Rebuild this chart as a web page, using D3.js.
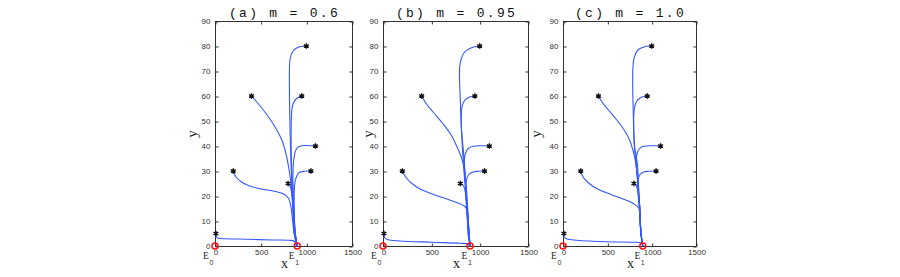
<!DOCTYPE html>
<html><head><meta charset="utf-8">
<script src="https://cdn.jsdelivr.net/npm/d3@7"></script>
<style>body{margin:0;background:#fff}</style>
</head><body><svg id="c" width="900" height="277"></svg>
<script>
// ---- data ----
const titles = ["(a) m = 0.6", "(b) m = 0.95", "(c) m = 1.0"];
const xTicks = [0, 500, 1000, 1500];
const yTicks = [0, 10, 20, 30, 40, 50, 60, 70, 80, 90];
const equilibria = [[0, 0], [900, 0]];
const eqSubs = ["0", "1"];
const startPoints = [[10,5],[200,30],[400,60],[800,25],[1000,80],[950,60],[1100,40],[1050,30]];

const trajA = [
  [[10,5],[15,3.6],[37,3.1],[117,2.9],[337,2.7],[629,2.4],[812,2.3],[867,1.9],[885,0.5],[900,0]],
  [[200,30],[227,27.8],[282,25.8],[373,24.1],[520,22.7],[666,21.8],[757,20.7],[805,19.1],[831,15.8],[849,10.5],[871,3.9],[900,0]],
  [[400,60],[465,57.3],[556,53.1],[666,47.1],[732,42.4],[776,37.1],[805,31.8],[827,26.5],[841,21.1],[860,13.2],[878,5.2],[900,0]],
  [[800,25],[823,23.8],[841,21.1],[853,15.8],[867,7.8],[900,0]],
  [[1000,80],[904,79.4],[849,77.7],[823,75],[816,71.7],[816,58.4],[823,45],[834,31.8],[849,18.5],[867,5.2],[900,0]],
  [[950,60],[893,59],[856,57],[841,54.4],[834,47.7],[834,38.4],[841,29.1],[856,18.5],[874,5.2],[900,0]],
  [[1100,40],[995,40.2],[922,39.8],[885,38.4],[867,35.8],[856,31.8],[853,26.5],[860,18.5],[878,5.2],[900,0]],
  [[1050,30],[977,29.9],[922,29.4],[893,27.8],[874,25.1],[867,21.1],[867,14.5],[878,5.2],[900,0]]
];
const trajB = [
  [[10,5],[17,3.3],[52,2.5],[172,2.0],[517,1.5],[793,1.1],[879,0.8],[900,0]],
  [[200,30],[234,27.6],[293,25.2],[379,22.9],[517,20.7],[655,18.9],[776,17.2],[845,15.9],[869,14.3],[879,10.3],[890,4.9],[900,0]],
  [[400,60],[448,56.9],[534,52.9],[621,48.9],[707,44.3],[766,39.6],[810,35.6],[828,32.9],[845,28.9],[862,20.9],[879,11.6],[900,0]],
  [[800,25],[828,24.3],[845,22.9],[855,20.9],[862,18.3],[872,11.6],[900,0]],
  [[1000,80],[914,79.3],[845,77.6],[810,74.9],[793,71.6],[793,64.9],[800,58.3],[810,47.6],[828,39.6],[845,31.6],[855,23.6],[869,15.6],[879,4.9],[900,0]],
  [[950,60],[879,59.3],[834,57.6],[814,54.9],[810,50.3],[817,42.3],[828,35.6],[845,30.3],[862,23.6],[879,12.9],[890,4.9],[900,0]],
  [[1100,40],[1017,40.1],[931,39.9],[879,38.9],[852,36.9],[841,34.3],[838,30.3],[845,26.3],[862,19.6],[879,11.6],[900,0]],
  [[1050,30],[983,29.9],[931,29.6],[890,28.7],[862,26.3],[852,22.9],[859,18.3],[872,11.6],[900,0]]
];
const trajC = [
  [[10,5],[12,3.6],[45,2.8],[158,2.3],[496,1.7],[797,1.5],[872,1.3],[900,0]],
  [[200,30],[226,27.6],[289,25.2],[383,22.9],[534,20.7],[684,18.7],[797,16.9],[853,15.3],[865,12.9],[872,7.6],[883,3.6],[900,0]],
  [[400,60],[440,57.6],[515,54.3],[609,50.3],[692,46.3],[752,42.3],[789,38.3],[808,35.6],[827,31.6],[842,26.3],[857,18.3],[880,4.9],[900,0]],
  [[800,25],[823,24.3],[838,22.9],[846,20.9],[853,18.3],[865,14.3],[880,4.9],[900,0]],
  [[1000,80],[910,79.6],[842,78.3],[805,75.6],[789,71.6],[786,64.9],[789,58.3],[797,47.6],[808,39.6],[827,35.6],[842,31.6],[853,23.6],[865,15.6],[880,4.9],[900,0]],
  [[950,60],[872,59.3],[827,57.6],[805,54.9],[797,50.3],[801,42.3],[816,35.6],[835,28.9],[853,20.9],[865,15.6],[880,4.9],[900,0]],
  [[1100,40],[1004,40.1],[910,39.9],[861,38.9],[835,36.9],[827,34.3],[831,30.3],[842,26.3],[853,20.9],[865,15.6],[880,4.9],[900,0]],
  [[1050,30],[966,29.9],[910,29.6],[872,28.7],[850,26.9],[846,23.6],[853,19.6],[865,15.6],[880,4.9],[900,0]]
];
const trajectories = [trajA, trajB, trajC];

// ---- layout ----
const frames = [
  {l: 215, r: 352, yl: 194},
  {l: 383, r: 528, yl: 370},
  {l: 563, r: 696, yl: 538}
];
const topY = 21, bottomY = 246;
const svg = d3.select("#c");
const axisColor = "#333";
const tickFont = "Liberation Sans, Arial, sans-serif";

frames.forEach((f, i) => {
  const x = d3.scaleLinear().domain([0, 1500]).range([f.l, f.r]);
  const y = d3.scaleLinear().domain([0, 90]).range([bottomY, topY]);
  const g = svg.append("g");

  // box
  g.append("rect").attr("x", f.l + 0.5).attr("y", topY + 0.5)
    .attr("width", f.r - f.l).attr("height", bottomY - topY)
    .attr("fill", "none").attr("stroke", axisColor).attr("stroke-width", 1);

  // inward ticks via d3 axes
  const tl = 3;
  const axB = g.append("g").attr("transform", `translate(0.5,${bottomY + 0.5})`)
    .call(d3.axisBottom(x).tickValues(xTicks).tickSize(-tl).tickFormat(d => d).tickPadding(4));
  const axT = g.append("g").attr("transform", `translate(0.5,${topY + 0.5})`)
    .call(d3.axisTop(x).tickValues(xTicks).tickSize(-tl).tickFormat(""));
  const axL = g.append("g").attr("transform", `translate(${f.l + 0.5},0.5)`)
    .call(d3.axisLeft(y).tickValues(yTicks).tickSize(-tl).tickFormat(d => d).tickPadding(5));
  const axR = g.append("g").attr("transform", `translate(${f.r + 0.5},0.5)`)
    .call(d3.axisRight(y).tickValues(yTicks).tickSize(-tl).tickFormat(""));
  [axB, axT, axL, axR].forEach(a => {
    a.select(".domain").remove();
    a.selectAll("line").attr("stroke", axisColor);
    a.selectAll("text").attr("fill", "#333").style("font-family", tickFont).style("font-size", "8px");
  });
  axB.selectAll("text").attr("dy", "0.5em");
  axL.selectAll("text").attr("dy", "0.25em");

  // trajectories
  const line = d3.line().x(d => x(d[0])).y(d => y(d[1])).curve(d3.curveCatmullRom.alpha(0.5));
  g.selectAll("path.traj").data(trajectories[i]).enter().append("path")
    .attr("class", "traj").attr("d", line)
    .attr("fill", "none").attr("stroke", "#3358ff").attr("stroke-width", 1.1);

  // start markers
  const star = d3.symbol().type(d3.symbolAsterisk).size(22);
  g.selectAll("path.st").data(startPoints).enter().append("path")
    .attr("class", "st").attr("d", star)
    .attr("transform", d => `translate(${x(d[0])},${y(d[1])})`)
    .attr("fill", "none").attr("stroke", "#111").attr("stroke-width", 1.4);

  // equilibria
  g.selectAll("circle.eq").data(equilibria).enter().append("circle")
    .attr("class", "eq").attr("cx", d => x(d[0])).attr("cy", d => y(d[1])).attr("r", 3)
    .attr("fill", "none").attr("stroke", "#ff1010").attr("stroke-width", 1.5);

  // E labels
  equilibria.forEach((e, k) => {
    const ex = x(e[0]) - (k === 0 ? 9 : 5.5);
    g.append("text").attr("x", ex).attr("y", 259).attr("text-anchor", "middle")
      .style("font-family", "Liberation Serif, Times New Roman, serif").style("font-size", "9.5px")
      .attr("fill", "#222").text("E");
    g.append("text").attr("x", ex + 5.5).attr("y", 265).attr("text-anchor", "middle")
      .style("font-family", tickFont).style("font-size", "7px")
      .attr("fill", "#333").text(eqSubs[k]);
  });

  // axis labels
  g.append("text").attr("x", (f.l + f.r) / 2 + 1).attr("y", 268).attr("text-anchor", "middle")
    .style("font-family", "Liberation Serif, Times New Roman, serif").style("font-size", "14px")
    .attr("fill", "#222").text("x");
  g.append("text").attr("transform", `translate(${f.yl + 3},134) rotate(-90)`).attr("text-anchor", "middle")
    .style("font-family", "Liberation Serif, Times New Roman, serif").style("font-size", "15px")
    .attr("fill", "#222").text("y");

  // title
  g.append("text").attr("x", (f.l + f.r) / 2 + 1).attr("y", 17).attr("text-anchor", "middle")
    .style("font-family", "Liberation Mono, Courier New, monospace").style("font-size", "13px")
    .style("letter-spacing", "2.3px").attr("fill", "#111").text(titles[i]);
});
</script></body></html>
